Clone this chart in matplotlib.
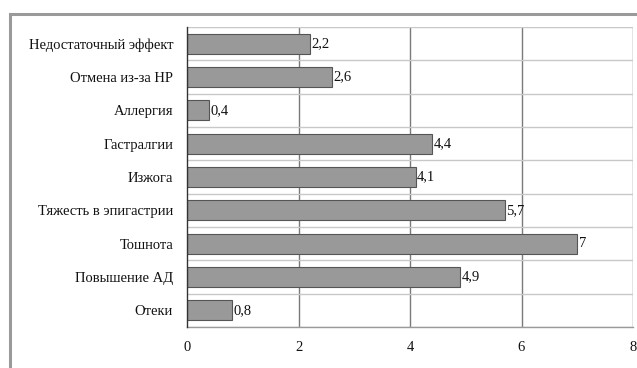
import matplotlib
matplotlib.use("Agg")
import matplotlib.pyplot as plt
from matplotlib.patches import Rectangle

categories = [
    "Недостаточный эффект",
    "Отмена из-за НР",
    "Аллергия",
    "Гастралгии",
    "Изжога",
    "Тяжесть в эпигастрии",
    "Тошнота",
    "Повышение АД",
    "Отеки",
]
values = [2.2, 2.6, 0.4, 4.4, 4.1, 5.7, 7, 4.9, 0.8]
xticks = [0, 2, 4, 6, 8]

plt.rcParams["font.family"] = ["Liberation Serif", "DejaVu Serif"]

W, H = 637, 368
fig = plt.figure(figsize=(W / 100, H / 100), dpi=100)
fig.patch.set_facecolor("white")

# outer frame, running off the right and bottom edges
fig.patches.append(Rectangle((9.5 / W, -0.1), 1.2, (H - 14) / H + 0.1,
                             transform=fig.transFigure, fill=False,
                             edgecolor="#9a9a9a", linewidth=2.2))

ax = fig.add_axes([187 / W, 1 - 327 / H, (633 - 187) / W, 300 / H])

n = len(categories)
ypos = list(range(n))[::-1]
ax.barh(ypos, values, height=0.6, color="#999999", edgecolor="#555555",
        linewidth=0.8, zorder=3)

for y, v in zip(ypos, values):
    label = f"{v:g}".replace(".", ",")
    ax.text(v + 0.03, y, label, va="center", ha="left", fontsize=10.5,
            color="#111111", zorder=4)

ax.set_xlim(0, 8)
ax.set_ylim(-0.5, n - 0.5)
ax.set_xticks(xticks)
ax.set_xticklabels([str(t) for t in xticks], fontsize=10.5)
ax.set_yticks(ypos)
ax.set_yticklabels(categories, fontsize=10.5)
ax.tick_params(axis="both", length=0, colors="#111111")
ax.tick_params(axis="x", pad=10)
ax.tick_params(axis="y", pad=10)

# vertical gridlines at major ticks
for t in xticks[1:]:
    ax.axvline(t, color="#7a7a7a", linewidth=1.0, zorder=1)
# horizontal lines between categories
for b in range(n + 1):
    ax.axhline(b - 0.5, color="#c8c8c8", linewidth=1.0, zorder=1)

for s in ["top", "right"]:
    ax.spines[s].set_visible(False)
ax.spines["left"].set_color("#333333")
ax.spines["left"].set_linewidth(1.0)
ax.spines["left"].set_zorder(5)
ax.spines["bottom"].set_color("#9a9a9a")
ax.spines["bottom"].set_linewidth(1.0)

fig.savefig("out.png", dpi=100)
